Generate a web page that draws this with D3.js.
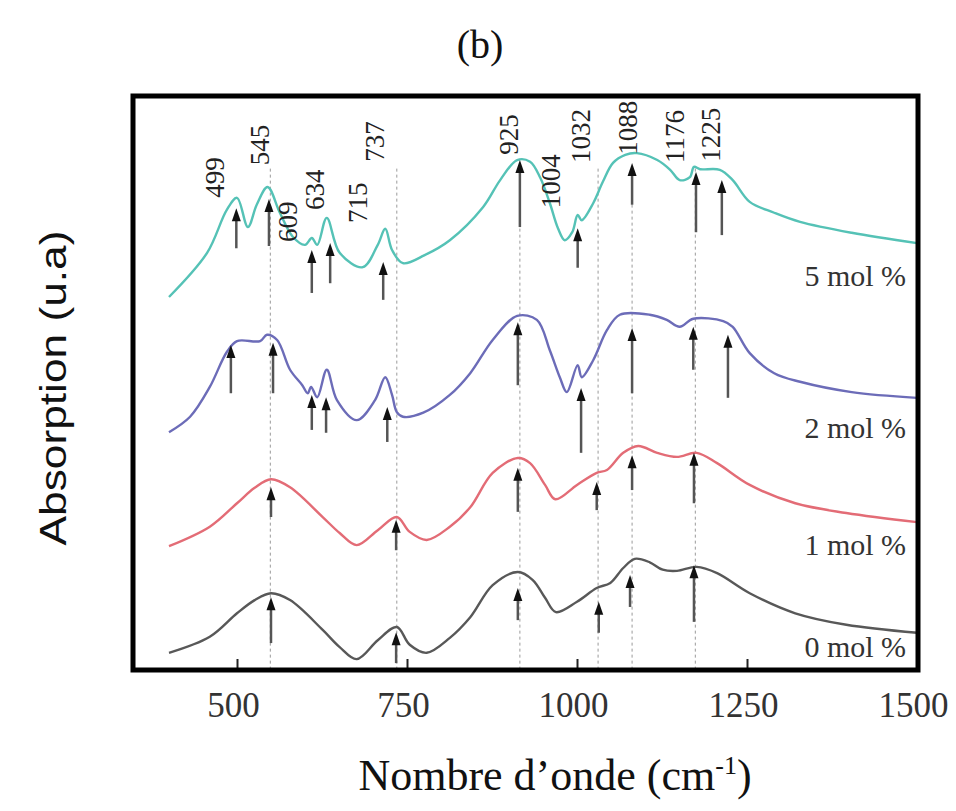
<!DOCTYPE html>
<html>
<head>
<meta charset="utf-8">
<script src="https://cdn.jsdelivr.net/npm/d3@7"></script>
<style>
  body { margin: 0; background: #fff; }
</style>
</head>
<body>
<svg></svg>
<script>
let width = 956, height = 811;

// spectra: [wavenumber, absorption (u.a, offset)]
const mol5 = [[400,6.51],[456,7.28],[485,8.03],[500,8.24],[516,7.73],[529,8.12],[545,8.43],[563,7.98],[582,7.56],[600,7.42],[610,7.54],[618,7.42],[632,7.89],[651,7.28],[685,7.03],[707,7.42],[718,7.70],[728,7.33],[744,7.10],[776,7.24],[813,7.50],[862,8.08],[887,8.55],[912,8.90],[931,8.87],[946,8.59],[960,8.15],[972,7.71],[982,7.50],[993,7.64],[1001,7.94],[1007,7.85],[1024,8.15],[1038,8.52],[1053,8.85],[1071,8.99],[1088,9.02],[1118,8.90],[1137,8.73],[1151,8.55],[1166,8.60],[1172,8.78],[1181,8.74],[1210,8.73],[1229,8.55],[1254,8.17],[1290,7.98],[1328,7.82],[1404,7.63],[1500,7.45]];
const mol2 = [[400,4.15],[431,4.42],[460,4.94],[485,5.55],[500,5.74],[534,5.74],[544,5.85],[559,5.76],[578,5.24],[596,4.97],[604,4.83],[609,4.94],[618,4.76],[632,5.24],[647,4.71],[676,4.36],[703,4.71],[718,5.11],[728,4.80],[735,4.50],[744,4.42],[774,4.49],[813,4.80],[843,5.18],[876,5.76],[912,6.18],[941,6.11],[960,5.58],[975,5.10],[985,4.85],[1001,5.32],[1007,5.11],[1024,5.41],[1044,5.93],[1063,6.20],[1107,6.20],[1132,6.11],[1151,5.99],[1171,6.13],[1215,6.09],[1229,5.99],[1254,5.53],[1290,5.18],[1328,5.03],[1404,4.85],[1500,4.75]];
const mol1 = [[400,2.16],[460,2.50],[500,2.91],[526,3.18],[550,3.33],[578,3.19],[626,2.67],[651,2.39],[676,2.18],[707,2.44],[735,2.67],[754,2.41],[779,2.27],[813,2.50],[843,2.84],[876,3.44],[913,3.70],[931,3.61],[953,3.23],[968,2.98],[1000,3.23],[1029,3.44],[1044,3.49],[1068,3.79],[1090,3.91],[1118,3.79],[1147,3.72],[1176,3.79],[1206,3.61],[1254,3.23],[1321,2.91],[1396,2.74],[1500,2.58]];
const mol0 = [[400,0.30],[460,0.58],[500,0.99],[526,1.22],[550,1.34],[578,1.22],[626,0.70],[651,0.40],[676,0.19],[707,0.52],[735,0.75],[754,0.44],[779,0.30],[813,0.56],[843,0.92],[876,1.48],[913,1.71],[935,1.57],[953,1.26],[969,1.01],[1000,1.19],[1029,1.43],[1049,1.52],[1068,1.78],[1085,1.94],[1107,1.88],[1126,1.75],[1147,1.73],[1176,1.80],[1206,1.69],[1254,1.34],[1321,0.99],[1396,0.79],[1500,0.65]];

// arrows: [wavenumber, tip, tail]
const arrows5 = [[499,8.06,7.36],[547,8.22,7.40],[610,7.33,6.58],[637,7.45,6.75],[715,7.12,6.46],[916,8.90,7.73],[1001,7.71,7.02],[1081,8.85,8.12],[1175,8.69,7.64],[1213,8.55,7.59]];
const arrows2 = [[491,5.67,4.83],[553,5.71,4.83],[610,4.80,4.19],[631,4.76,4.14],[721,4.59,3.98],[913,6.07,4.97],[1006,4.92,3.79],[1081,5.97,4.83],[1171,5.99,5.24],[1222,5.85,4.75]];
const arrows1 = [[550,3.19,2.67],[734,2.62,2.09],[913,3.53,2.76],[1029,3.28,2.79],[1081,3.75,3.14],[1172,3.79,2.91]];
const arrows0 = [[550,1.27,0.47],[734,0.66,0.12],[913,1.43,0.87],[1032,1.19,0.65],[1078,1.66,1.10],[1172,1.83,0.84]];

const seriesNames = ["5 mol %", "2 mol %", "1 mol %", "0 mol %"];
const seriesColors = ["#55c2b6", "#6c6cb8", "#e36c76", "#585858"];
const seriesLabelLevel = [6.7, 4.05, 2.0, 0.23];

// dashed guide lines
const guideLines = [549, 735, 916, 1031, 1081, 1174];

// peak labels: [text, wavenumber, level of text start]
const peakLabels = [["499",468,8.24],["545",534,8.81],["609",574,7.47],["634",615,8.03],["715",678,7.80],["737",703,8.87],["925",899,8.99],["1004",962,8.06],["1032",1006,8.85],["1088",1074,8.99],["1176",1144,8.85],["1225",1197,8.87]];

const xTicks = [500, 750, 1000, 1250, 1500];

let svg = d3.select("svg")
    .attr("width", width)
    .attr("height", height);

let x = d3.scaleLinear().domain([350, 1500]).range([135, 917]);
let y = d3.scaleLinear().domain([0, 10]).range([670, 97]);

// Title
svg.append("text")
    .attr("x", 480)
    .attr("y", 58)
    .attr("text-anchor", "middle")
    .attr("font-family", "Liberation Serif")
    .attr("font-size", "40px")
    .attr("fill", "#111")
    .text("(b)");

// dashed guides
svg.append("g")
    .selectAll("line")
    .data(guideLines)
    .enter()
    .append("line")
    .attr("x1", d => x(d)).attr("x2", d => x(d))
    .attr("y1", y(8.75)).attr("y2", y(0))
    .attr("stroke", "#9a9a9a")
    .attr("stroke-width", 1)
    .attr("stroke-dasharray", "3,3");

// curves
let line = d3.line()
    .x(d => x(d[0]))
    .y(d => y(d[1]))
    .curve(d3.curveCatmullRom.alpha(0.5));

const allSeries = [mol5, mol2, mol1, mol0];
svg.append("g")
    .selectAll("path")
    .data(allSeries)
    .enter()
    .append("path")
    .attr("d", d => line(d))
    .attr("fill", "none")
    .attr("stroke", (d, i) => seriesColors[i])
    .attr("stroke-width", 2.4);

// arrows
const allArrows = [].concat(arrows5, arrows2, arrows1, arrows0);
let arrowG = svg.append("g");
arrowG.selectAll("line")
    .data(allArrows)
    .enter()
    .append("line")
    .attr("x1", d => x(d[0])).attr("x2", d => x(d[0]))
    .attr("y1", d => y(d[2])).attr("y2", d => y(d[1]) + 8)
    .attr("stroke", "#555")
    .attr("stroke-width", 2.5);
arrowG.selectAll("path")
    .data(allArrows)
    .enter()
    .append("path")
    .attr("d", d => {
        let px = x(d[0]), py = y(d[1]);
        return `M${px - 4.5},${py + 13}L${px},${py}L${px + 4.5},${py + 13}Z`;
    })
    .attr("fill", "#111");

// peak labels (rotated)
svg.append("g")
    .selectAll("text")
    .data(peakLabels)
    .enter()
    .append("text")
    .attr("transform", d => `translate(${x(d[1])},${y(d[2])}) rotate(-90)`)
    .attr("dy", "0.34em")
    .attr("font-family", "Liberation Serif")
    .attr("font-size", "27px")
    .attr("fill", "#222")
    .text(d => d[0]);

// series labels
svg.append("g")
    .selectAll("text")
    .data(seriesNames)
    .enter()
    .append("text")
    .attr("x", x(1484))
    .attr("y", (d, i) => y(seriesLabelLevel[i]))
    .attr("text-anchor", "end")
    .attr("font-family", "Liberation Serif")
    .attr("font-size", "30px")
    .attr("fill", "#333")
    .text(d => d);

// x axis with inward ticks
let xAxis = d3.axisBottom(x)
    .tickValues(xTicks)
    .tickFormat(d3.format("d"))
    .tickSizeInner(-11)
    .tickSizeOuter(0)
    .tickPadding(22);

let axisG = svg.append("g")
    .attr("transform", `translate(0,${y(0)})`)
    .call(xAxis);
axisG.select(".domain").remove();
axisG.selectAll(".tick line").attr("stroke", "#222").attr("stroke-width", 2);
axisG.selectAll(".tick text")
    .attr("dx", -4)
    .attr("font-family", "Liberation Serif")
    .attr("font-size", "35px")
    .attr("fill", "#333");

// frame
svg.append("rect")
    .attr("x", 133)
    .attr("y", 96)
    .attr("width", 785)
    .attr("height", 574)
    .attr("fill", "none")
    .attr("stroke", "#000")
    .attr("stroke-width", 5);

// axis titles
let xt = svg.append("text")
    .attr("x", 555)
    .attr("y", 790)
    .attr("text-anchor", "middle")
    .attr("font-family", "Liberation Serif")
    .attr("font-size", "44px")
    .attr("fill", "#111");
xt.append("tspan").text("Nombre d\u2019onde (cm");
xt.append("tspan").attr("dy", "-16").attr("font-size", "26px").text("-1");
xt.append("tspan").attr("dy", "16").text(")");

svg.append("text")
    .attr("transform", "translate(66,388) rotate(-90)")
    .attr("text-anchor", "middle")
    .attr("font-family", "Liberation Sans")
    .attr("font-size", "36px")
    .attr("textLength", 315)
    .attr("lengthAdjust", "spacingAndGlyphs")
    .attr("fill", "#111")
    .text("Absorption (u.a)");
</script>
</body>
</html>
